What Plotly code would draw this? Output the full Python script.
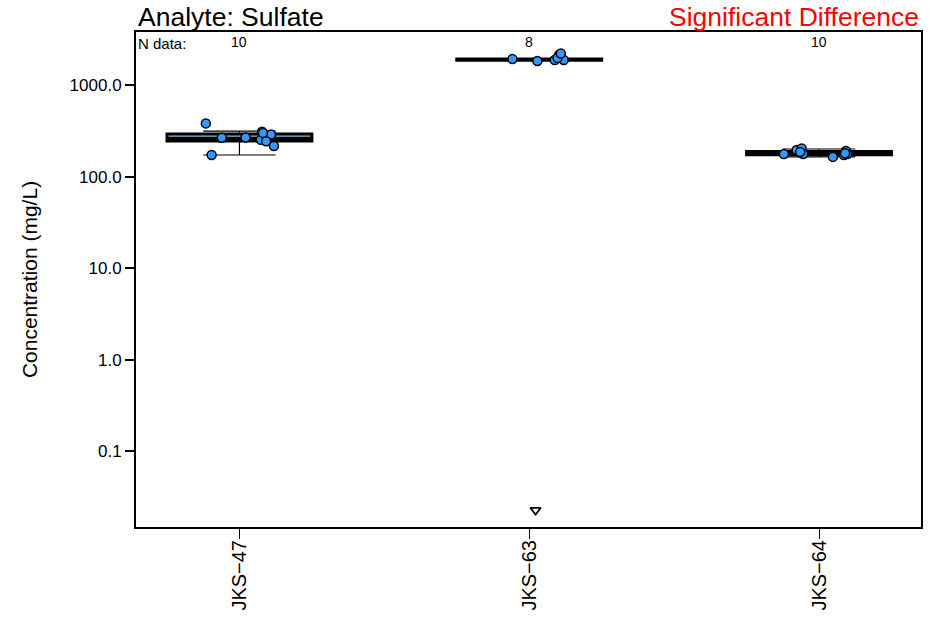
import plotly.graph_objects as go

# ---- data ----
categories = ["JKS\u221247", "JKS\u221263", "JKS\u221264"]
n_data = [10, 8, 10]

# box statistics (mg/L)
q1 = [244, 1862, 173]
median = [262, 1890, 180]
q3 = [292, 1922, 188]
lower_fence = [172, 1862, 164]
upper_fence = [314, 1922, 200]

# detected sample values and their jitter offsets (category units)
jks47_vals = [381, 266, 268, 309, 289, 253, 243, 216, 172, 300]
jks47_jit = [-0.116, -0.061, 0.021, 0.078, 0.109, 0.074, 0.092, 0.119, -0.096, 0.081]
jks63_vals = [1923, 1829, 1880, 2129, 1880, 1975, 2210]
jks63_jit = [-0.058, 0.028, 0.088, 0.103, 0.119, 0.098, 0.109]
jks64_vals = [176, 195, 203, 176, 164, 172, 190, 176, 185, 180]
jks64_jit = [-0.121, -0.077, -0.060, -0.055, 0.048, 0.086, 0.093, 0.097, -0.065, 0.090]

# non-detect value
nd_cat = [1]
nd_vals = [0.0226]
nd_jit = [0.022]

y_tickvals = [0.1, 1, 10, 100, 1000]
y_ticktext = ["0.1", "1.0", "10.0", "100.0", "1000.0"]

FONT = "Liberation Sans, Arial, sans-serif"
pos = list(range(len(categories)))

fig = go.Figure()

# thin whiskers
fig.add_trace(go.Box(
    x=pos, q1=q1, median=median, q3=q3,
    lowerfence=lower_fence, upperfence=upper_fence,
    width=0.5, whiskerwidth=0.5,
    line=dict(color="black", width=1.2),
    fillcolor="rgba(0,0,0,0)", boxpoints=False, hoverinfo="skip",
    showlegend=False,
))
# thick box body
fig.add_trace(go.Box(
    x=pos, q1=q1, median=median, q3=q3,
    lowerfence=q1, upperfence=q3,
    width=0.5, whiskerwidth=0,
    line=dict(color="black", width=3),
    fillcolor="#87b8e0", boxpoints=False, hoverinfo="skip",
    showlegend=False,
))

groups = [(0, jks47_vals, jks47_jit), (1, jks63_vals, jks63_jit), (2, jks64_vals, jks64_jit)]
for c, vals, jit in groups:
    fig.add_trace(go.Scatter(
        x=[c + j for j in jit], y=vals, mode="markers",
        marker=dict(size=9, color="#3399ff", line=dict(color="black", width=1.5)),
        showlegend=False,
    ))

fig.add_trace(go.Scatter(
    x=[c + j for c, j in zip(nd_cat, nd_jit)], y=nd_vals, mode="markers",
    marker=dict(symbol="triangle-down-open", size=9, color="black", line=dict(width=1.8)),
    showlegend=False,
))

annotations = [
    dict(text="Analyte: Sulfate", xref="paper", yref="paper", x=0, y=1,
         xanchor="left", yanchor="bottom", yshift=-2, showarrow=False,
         font=dict(family=FONT, size=26.5, color="black")),
    dict(text="Significant Difference", xref="paper", yref="paper", x=1, y=1,
         xanchor="right", yanchor="bottom", yshift=-2, showarrow=False,
         font=dict(family=FONT, size=26.5, color="red")),
    dict(text="N data:", xref="paper", yref="paper", x=0, y=1,
         xanchor="left", yanchor="top", yshift=-1, showarrow=False,
         font=dict(family=FONT, size=15, color="black")),
]
for c, n in zip(pos, n_data):
    annotations.append(dict(text=str(n), xref="x", yref="paper", x=c, y=1,
                            xanchor="center", yanchor="top", yshift=0, showarrow=False,
                            font=dict(family=FONT, size=14, color="black")))

fig.update_layout(
    width=945, height=618,
    margin=dict(l=136, r=24, t=32, b=91),
    paper_bgcolor="white", plot_bgcolor="white",
    boxmode="overlay",
    font=dict(family=FONT, color="black"),
    annotations=annotations,
    xaxis=dict(
        range=[-0.357, 2.352], tickmode="array", tickvals=pos, ticktext=categories,
        tickangle=-90, ticks="outside", ticklen=10, tickwidth=1, tickcolor="black",
        ticklabelstandoff=-7,
        tickfont=dict(family=FONT, size=20), showgrid=False, zeroline=False,
        showline=True, linecolor="black", linewidth=2, mirror=True, automargin=False,
    ),
    yaxis=dict(
        type="log", range=[-1.83, 3.58], tickmode="array",
        tickvals=y_tickvals, ticktext=y_ticktext,
        ticks="outside", ticklen=9, tickwidth=1.5, tickcolor="black",
        tickfont=dict(family=FONT, size=17), showgrid=False, zeroline=False,
        showline=True, linecolor="black", linewidth=2, mirror=True, automargin=False,
        title=dict(text="Concentration (mg/L)", font=dict(family=FONT, size=21), standoff=26),
    ),
)

fig.write_html("out.html", config={"displayModeBar": False},
               post_script="document.body.style.margin='0';")
